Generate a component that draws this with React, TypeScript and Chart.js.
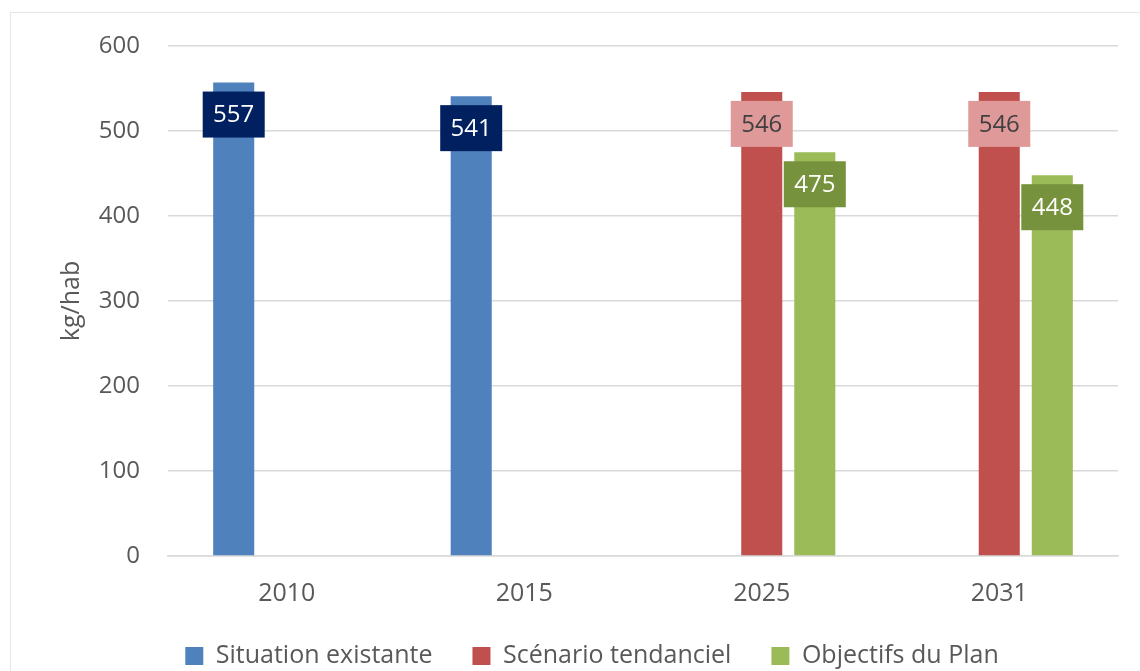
import React, { useEffect, useRef } from "react";
import { Chart, registerables } from "chart.js";

Chart.register(...registerables);

const categories = ["2010", "2015", "2025", "2031"];
const situationExistante = [557, 541, null, null];
const scenarioTendanciel = [null, null, 546, 546];
const objectifsDuPlan = [null, null, 475, 448];
const yTicks = [0, 100, 200, 300, 400, 500, 600];

const FONT = "'Open Sans', sans-serif";

const labelStyles = [
  { bg: "#002060", fg: "#ffffff" },
  { bg: "#e09999", fg: "#404040" },
  { bg: "#76923c", fg: "#ffffff" },
];

const valueBoxPlugin = {
  id: "valueBoxes",
  afterDatasetsDraw(chart: any) {
    const ctx = chart.ctx;
    chart.data.datasets.forEach((ds: any, di: number) => {
      const meta = chart.getDatasetMeta(di);
      meta.data.forEach((el: any, i: number) => {
        const v = ds.data[i];
        if (v === null || v === undefined) return;
        const w = 62;
        const h = 46;
        const top = el.y + 9;
        const st = labelStyles[di];
        ctx.save();
        ctx.fillStyle = st.bg;
        ctx.fillRect(el.x - w / 2, top, w, h);
        ctx.fillStyle = st.fg;
        ctx.font = `24px ${FONT}`;
        ctx.textAlign = "center";
        ctx.textBaseline = "middle";
        ctx.fillText(String(v), el.x, top + h / 2 + 1);
        ctx.restore();
      });
    });
  },
};

export default function App() {
  const ref = useRef<HTMLCanvasElement>(null);
  useEffect(() => {
    document.body.style.margin = "0";
    const chart = new Chart(ref.current!, {
      type: "bar",
      data: {
        labels: categories,
        datasets: [
          {
            label: "Situation existante",
            data: situationExistante,
            backgroundColor: "#4f81bd",
            categoryPercentage: 0.67,
            barPercentage: 0.774,
          },
          {
            label: "Scénario tendanciel",
            data: scenarioTendanciel,
            backgroundColor: "#c0504d",
            categoryPercentage: 0.67,
            barPercentage: 0.774,
          },
          {
            label: "Objectifs du Plan",
            data: objectifsDuPlan,
            backgroundColor: "#9bbb59",
            categoryPercentage: 0.67,
            barPercentage: 0.774,
          },
        ] as any,
      },
      options: {
        animation: false,
        responsive: false,
        maintainAspectRatio: false,
        layout: { padding: { left: 66, right: 22, top: 46, bottom: -7.5 } },
        plugins: {
          tooltip: { enabled: false },
          legend: {
            position: "bottom",
            labels: {
              boxWidth: 18,
              boxHeight: 18,
              padding: 40,
              color: "#595959",
              font: { family: FONT, size: 25 },
            },
          },
        },
        scales: {
          x: {
            afterFit(scale: any) {
              scale.height = 47.5;
            },
            grid: { display: false, drawTicks: false },
            border: { display: true, color: "#d9d9d9", width: 1.5 },
            ticks: {
              color: "#595959",
              font: { family: FONT, size: 25 },
              padding: 23,
            },
          },
          y: {
            min: 0,
            max: 600,
            afterBuildTicks(scale: any) {
              scale.ticks = yTicks.map((v) => ({ value: v }));
            },
            afterFit(scale: any) {
              scale.width = 102;
            },
            grid: { color: "#d9d9d9", lineWidth: 1.5, drawTicks: false },
            border: { display: false },
            ticks: {
              color: "#595959",
              font: { family: FONT, size: 24 },
              padding: 28,
            },
            title: {
              display: true,
              text: "kg/hab",
              color: "#595959",
              font: { family: FONT, size: 25 },
              padding: { top: -9, bottom: 0 },
            },
          },
        },
      },
      plugins: [valueBoxPlugin],
    });
    return () => chart.destroy();
  }, []);
  return (
    <div style={{ position: "relative", width: 1140, height: 671, overflow: "hidden", background: "#fff" }}>
      <div
        style={{
          position: "absolute",
          left: 10,
          top: 12,
          width: 1200,
          height: 700,
          border: "1px solid #e6e6e6",
        }}
      />
      <canvas ref={ref} width={1140} height={671} style={{ position: "absolute", left: 0, top: 0 }} />
    </div>
  );
}
